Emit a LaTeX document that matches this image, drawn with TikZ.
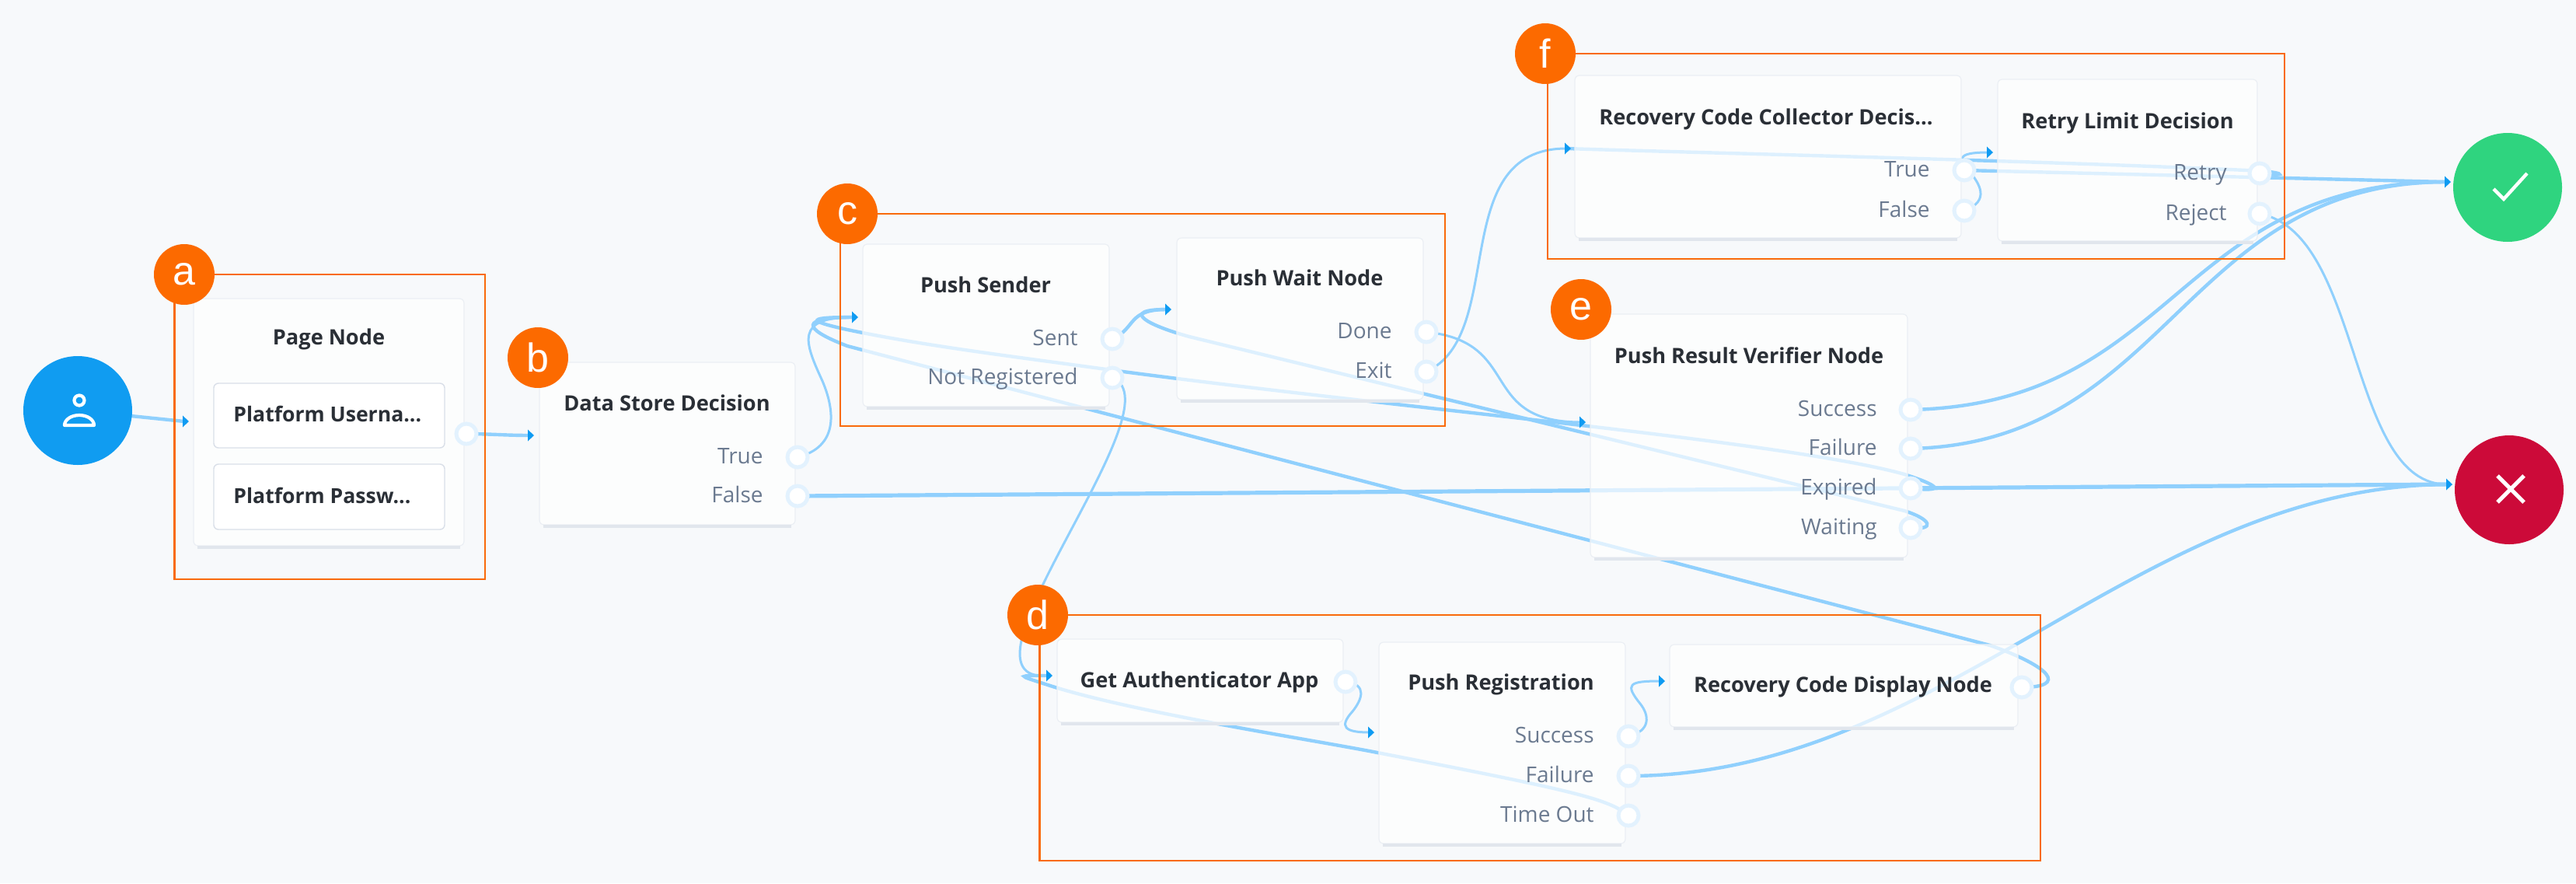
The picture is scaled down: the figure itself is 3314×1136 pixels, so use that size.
\documentclass[tikz,border=0pt]{standalone}
\usepackage{fontspec}
\setmainfont{Open Sans}
\newcommand{\titlefont}{\bfseries}
\newfontfamily\badgefont{Liberation Sans}
\pgfdeclarelayer{wires}
\pgfsetlayers{wires,main}
\definecolor{canvas}{HTML}{F7F9FB}
\definecolor{wirecol}{HTML}{90D0FD}
\definecolor{tipcol}{HTML}{0F9BF2}
\definecolor{ringcol}{HTML}{E3F2FE}
\definecolor{edgecol}{HTML}{EBEFF4}
\definecolor{shadowcol}{HTML}{E1E6ED}
\definecolor{innercol}{HTML}{D9DFE8}
\definecolor{groupcol}{HTML}{F96A0A}
\definecolor{badgecol}{HTML}{FC6A00}
\definecolor{titlecol}{HTML}{2A2F36}
\definecolor{labelcol}{HTML}{6B7A90}
\definecolor{startcol}{HTML}{109CF1}
\definecolor{okcol}{HTML}{2FD47F}
\definecolor{failcol}{HTML}{CC0A39}
\tikzset{
  cardbox/.style={rectangle, rounded corners=3pt, fill=white, fill opacity=.7, draw=edgecol, line width=.6pt, inner sep=0, outer sep=0},
  fieldbox/.style={rectangle, rounded corners=3pt, fill=white, draw=innercol, line width=.7pt, inner sep=0, outer sep=0},
  portnode/.style={circle, fill=white, draw=ringcol, line width=2.5pt, minimum size=13pt, inner sep=0, outer sep=0},
  titletext/.style={font=\titlefont\fontsize{13.6}{16}\selectfont, text=titlecol, inner sep=0, anchor=mid, yshift=-1.5pt},
  fieldtext/.style={font=\titlefont\fontsize{13.3}{16}\selectfont, text=titlecol, inner sep=0, anchor=mid west, yshift=-1pt},
  labeltext/.style={font=\fontsize{14}{16}\selectfont, text=labelcol, inner sep=0, anchor=mid east, yshift=-1.5pt},
  groupbox/.style={draw=groupcol, line width=1.2pt},
  badgenode/.style={circle, fill=badgecol, minimum size=39pt, inner sep=0, text=white, font=\badgefont\fontsize{26}{26}\selectfont},
  endnode/.style={circle, minimum size=70pt, inner sep=0},
  wire/.style={draw=wirecol, line width=2.2pt},
  wirethin/.style={draw=wirecol, line width=1.5pt},
  wirethick/.style={draw=wirecol, line width=2.6pt},
  iconline/.style={draw=white, line width=2.2pt}
}
% card: name, left, top, right, bottom
\newcommand{\carditem}[5]{%
  \node[cardbox, minimum width={(#4-#2)*0.5pt}, minimum height={(#5-#3)*0.5pt}] (#1) at ({(#2+#4)/2},{(#3+#5)/2}) {};
  \draw[shadowcol, line width=1.8pt] (#2+5,#5+2) -- (#4-5,#5+2);
}
% input tip: the coordinate is where the wire ends, the triangle sits just past it
\newcommand{\inputtip}[3]{%
  \coordinate (#1) at (#2,#3);
  \fill[tipcol] (#1) ++(-2,-7.5) -- ++(8,7.5) -- ++(-8,7.5) -- cycle;
}
\begin{document}
\begin{tikzpicture}[x=0.5pt,y=-0.5pt]
\useasboundingbox (0,0) rectangle (3314,1136);

% cards
\carditem{page}{249}{384}{597}{702}
\carditem{store}{694}{466}{1023}{675}
\carditem{sender}{1110}{314}{1427}{523}
\carditem{wait}{1514}{306}{1831}{514}
\carditem{verifier}{2046}{404}{2454}{717}
\carditem{collector}{2026}{97}{2523}{306}
\carditem{limit}{2570}{102}{2904}{310}
\carditem{authapp}{1360}{822}{1728}{929}
\carditem{registration}{1774}{826}{2091}{1085}
\carditem{display}{2148}{829}{2596}{935}

% page node fields
\node[fieldbox, minimum width=148.5pt, minimum height=41.5pt] (userfield) at (423.5,534.5) {};
\node[fieldbox, minimum width=148.5pt, minimum height=42pt] (passfield) at (423.5,639) {};

% card titles
\node[titletext] (tpage) at (423,435) {Page Node};
\node[titletext] (tstore) at (858,520) {Data Store Decision};
\node[titletext] (tsender) at (1268,368) {Push Sender};
\node[titletext] (twait) at (1672,359) {Push Wait Node};
\node[titletext] (tverifier) at (2250,459) {Push Result Verifier Node};
\node[titletext] (tcollector) at (2272,152) {Recovery Code Collector Decis...};
\node[titletext] (tlimit) at (2737,157) {Retry Limit Decision};
\node[titletext] (tauth) at (1543,876) {Get Authenticator App};
\node[titletext] (treg) at (1931,879) {Push Registration};
\node[titletext] (tdisplay) at (2371,882) {Recovery Code Display Node};
\node[fieldtext] (fuser) at (300,535) {Platform Userna...};
\node[fieldtext] (fpass) at (300,640) {Platform Passw...};

% outcome labels
\node[labeltext] (ltrue) at (982,588) {True};
\node[labeltext] (lfalse) at (982,638) {False};
\node[labeltext] (lsent) at (1387,436) {Sent};
\node[labeltext] (lnotreg) at (1387,486) {Not Registered};
\node[labeltext] (ldone) at (1791,427) {Done};
\node[labeltext] (lexit) at (1791,478) {Exit};
\node[labeltext] (lctrue) at (2483,219) {True};
\node[labeltext] (lcfalse) at (2483,271) {False};
\node[labeltext] (lretry) at (2865,223) {Retry};
\node[labeltext] (lreject) at (2865,275) {Reject};
\node[labeltext] (lsuccess) at (2415,527) {Success};
\node[labeltext] (lfailure) at (2415,577) {Failure};
\node[labeltext] (lexpired) at (2415,628) {Expired};
\node[labeltext] (lwaiting) at (2415,679) {Waiting};
\node[labeltext] (lrsuccess) at (2051,947) {Success};
\node[labeltext] (lrfailure) at (2051,998) {Failure};
\node[labeltext] (lrtimeout) at (2051,1049) {Time Out};

% output ports
\node[portnode] (ppage) at (600,558) {};
\node[portnode] (ptrue) at (1026,588) {};
\node[portnode] (pfalse) at (1026,638) {};
\node[portnode] (psent) at (1431,436) {};
\node[portnode] (pnotreg) at (1431,486) {};
\node[portnode] (pdone) at (1835,427) {};
\node[portnode] (pexit) at (1835,478) {};
\node[portnode] (pctrue) at (2527,219) {};
\node[portnode] (pcfalse) at (2527,271) {};
\node[portnode] (pretry) at (2907,223) {};
\node[portnode] (preject) at (2907,275) {};
\node[portnode] (psuccess) at (2458,527) {};
\node[portnode] (pfailure) at (2458,577) {};
\node[portnode] (pexpired) at (2458,628) {};
\node[portnode] (pwaiting) at (2458,679) {};
\node[portnode] (pauth) at (1731,877) {};
\node[portnode] (prsuccess) at (2095,947) {};
\node[portnode] (prfailure) at (2095,998) {};
\node[portnode] (prtimeout) at (2095,1049) {};
\node[portnode] (pdisplay) at (2601,884) {};

% start and end nodes
\node[endnode, fill=startcol] (start) at (100,528) {};
\node[endnode, fill=okcol] (success) at (3226,241) {};
\node[endnode, fill=failcol] (failure) at (3228,630) {};

% person icon
\draw[white, line width=2.1pt] (start.center) ++(2,-13) circle (6.5);
\draw[white, line width=2.1pt, line join=round] (83,547) -- (121,547) arc[start angle=0, end angle=180, x radius=19, y radius=-13] -- cycle;
% check and cross
\draw[iconline] (3208,243) -- (3221,256) -- (3251,223);
\draw[iconline, line width=2.6pt] (3213,612) -- (3247,646) (3247,612) -- (3213,646);

% input tips
\inputtip{inpage}{237}{542}
\inputtip{instore}{681}{560}
\inputtip{insender}{1098}{408}
\inputtip{inwait}{1501}{398}
\inputtip{inverifier}{2034}{543}
\inputtip{incollector}{2015}{191}
\inputtip{inlimit}{2558}{196}
\inputtip{insuccess}{3147}{234}
\inputtip{infailure}{3149}{623}
\inputtip{inauth}{1348}{869}
\inputtip{inreg}{1762}{942}
\inputtip{indisplay}{2136}{876}

% group frames
\draw[groupbox] (224.5,353) rectangle (624,745);
\draw[groupbox] (1081,275) rectangle (1859,548);
\draw[groupbox] (1991,69) rectangle (2939,333);
\draw[groupbox] (1337.5,791) rectangle (2625,1107);

% group badges
\node[badgenode] (ba) at (237,353) {a};
\node[badgenode] (bb) at (692,460) {b};
\node[badgenode] (bc) at (1090,275) {c};
\node[badgenode] (bd) at (1335,791) {d};
\node[badgenode] (be) at (2034,398) {e};
\node[badgenode] (bf) at (1988,69) {f};

% connectors sit under the translucent cards
\begin{pgfonlayer}{wires}
\fill[canvas] (0,0) rectangle (3314,1136);
\draw[wire] (start.center) -- (inpage);
\draw[wire] (ppage.center) .. controls (630,558) and (650,560) .. (instore);
\draw[wirethin] (ptrue.center) .. controls (1078,575) and (1075,530) .. (1058,490) .. controls (1035,440) and (1022,408) .. (insender);
\draw[wirethick] (pfalse.center) -- (infailure);
\draw[wire] (psent.center) .. controls (1462,422) and (1450,398) .. (inwait);
\draw[wirethin] (pnotreg.center) .. controls (1520,520) and (1210,880) .. (inauth);
\draw[wirethin] (pdone.center) .. controls (1960,440) and (1900,543) .. (inverifier);
\draw[wirethin] (pexit.center) .. controls (1940,430) and (1860,191) .. (incollector);
% expired and waiting loop back to the push sender and push wait inputs
\draw[wire] (pexpired.center) .. controls (2495,632) and (2505,628) .. (2450,610) .. controls (2300,568) and (1800,525) .. (1445,478) .. controls (1300,458) and (1190,445) .. (1090,424) .. controls (1035,412) and (1040,408) .. (insender);
\draw[wire] (pwaiting.center) .. controls (2490,682) and (2485,668) .. (2450,657) -- (1530,433) .. controls (1475,418) and (1440,398) .. (inwait);
% display node goes back to the push sender input
\draw[wire] (pdisplay.center) .. controls (2660,884) and (2640,858) .. (2560,830) -- (1090,445) .. controls (1030,422) and (1030,408) .. (insender);
% retry goes back to the collector input
\draw[wire] (pretry.center) .. controls (2950,228) and (2935,220) .. (2890,219) .. controls (2600,206) and (2200,197) .. (incollector);
\draw[wire] (pctrue.center) -- (insuccess);
\draw[wirethin] (pcfalse.center) .. controls (2562,258) and (2545,235) .. (2535,222) .. controls (2520,205) and (2515,196) .. (inlimit);
\draw[wirethin] (preject.center) .. controls (3040,300) and (3020,625) .. (infailure);
\draw[wire] (psuccess.center) .. controls (2800,520) and (2800,234) .. (insuccess);
\draw[wire] (pfailure.center) .. controls (2790,570) and (2810,234) .. (insuccess);
\draw[wirethin] (pauth.center) .. controls (1760,880) and (1752,900) .. (1740,915) .. controls (1722,935) and (1730,942) .. (inreg);
\draw[wirethin] (prsuccess.center) .. controls (2124,940) and (2122,920) .. (2110,905) .. controls (2090,880) and (2095,876) .. (indisplay);
\draw[wire] (prfailure.center) .. controls (2500,998) and (2750,625) .. (infailure);
\draw[wire] (prtimeout.center) .. controls (2070,1028) and (2030,1018) .. (1772,968) .. controls (1680,950) and (1450,915) .. (1345,880) .. controls (1308,868) and (1308,869) .. (inauth);
\end{pgfonlayer}
\end{tikzpicture}
\end{document}
